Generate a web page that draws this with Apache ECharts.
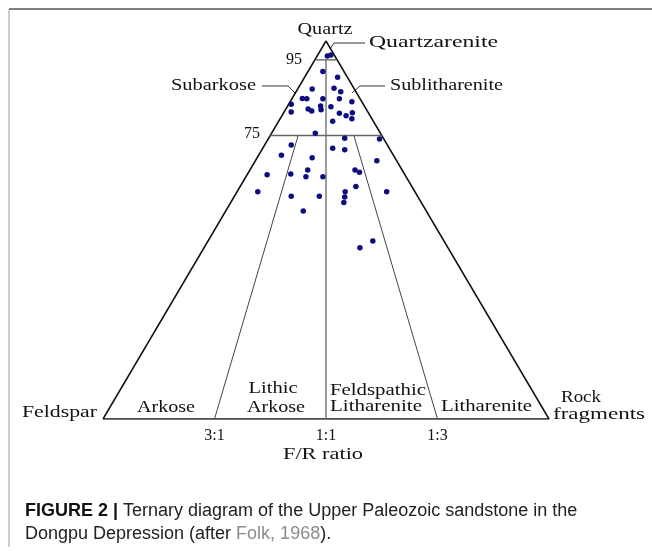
<!DOCTYPE html>
<html>
<head>
<meta charset="utf-8">
<script src="https://cdn.jsdelivr.net/npm/echarts@6/dist/echarts.min.js"></script>
<style>
html,body{margin:0;padding:0;background:#fff;}
#main{width:652px;height:552px;}
</style>
</head>
<body>
<div id="main"></div>
<script>
// Sample positions: [horizontal position along F→R base (%), Quartz (%)]
const samples = [
  [50.3,96.0],[51.1,96.3],[49.3,91.9],[52.6,90.4],[46.9,87.3],[51.8,87.5],[53.3,86.6],
  [44.7,84.8],[45.7,84.7],[49.3,84.7],[53.0,84.7],[55.8,83.9],[42.2,83.3],[42.2,81.2],
  [46.0,82.0],[46.8,81.5],[48.8,82.8],[48.9,81.8],[51.1,82.6],[53.0,80.9],[54.5,80.2],
  [55.9,81.0],[55.8,79.4],[51.5,78.8],[47.6,75.6],[54.2,74.3],[62.0,74.1],[42.2,72.5],
  [51.5,71.6],[54.2,71.2],[40.0,69.8],[46.9,69.1],[61.4,68.3],[45.9,65.9],[56.5,65.9],
  [57.5,65.3],[36.8,64.6],[42.1,64.8],[45.5,64.1],[49.3,64.1],[56.7,61.5],[34.7,60.1],
  [54.3,60.1],[63.6,60.1],[42.2,58.9],[48.5,58.9],[54.2,58.7],[54.0,57.3],[44.9,55.0],
  [60.5,47.1],[57.6,45.3]
];
// Triangle frame and class boundaries (same data units)
const outline = [[0,0],[100,0],[50,100],[0,0]];
const q95 = [[47.5,95],[52.5,95]];
const q75 = [[37.5,75],[62.5,75]];
const ratio11 = [[50,95],[50,0]];
const ratio31 = [[43.75,75],[25,0]];
const ratio13 = [[56.25,75],[75,0]];
const ratioTicks = [25, 50, 75];
const ratioLabels = ['3:1', '1:1', '1:3'];

const SERIF = '"Liberation Serif", "Times New Roman", serif';
const SANS = '"Liberation Sans", Arial, sans-serif';
const mctx = document.createElement('canvas').getContext('2d');
function measure(text, size) {
  mctx.font = size + 'px ' + SERIF;
  return mctx.measureText(text).width;
}
// serif label stretched horizontally to match the reference's wide lettering
function label(text, x, y, align, targetW, size) {
  size = size || 16;
  const s = targetW ? targetW / measure(text, size) : 1;
  return {
    type: 'text', x: x, y: y, scaleX: s,
    style: {
      text: text, font: size + 'px ' + SERIF, fill: '#111',
      align: align, textAlign: align, verticalAlign: 'middle', textVerticalAlign: 'middle'
    }
  };
}
function pline(points, color, width) {
  return { type: 'polyline', shape: { points: points },
    style: { stroke: color, lineWidth: width, fill: null } };
}

const chart = echarts.init(document.getElementById('main'), null, { renderer: 'canvas' });

function boundary(name, data, color, width) {
  return {
    name: name, type: 'line', data: data, symbol: 'none', silent: true,
    lineStyle: { color: color, width: width }, z: 1, animation: false
  };
}

const option = {
  backgroundColor: '#ffffff',
  animation: false,
  grid: { left: 103, top: 41, width: 446, height: 378 },
  xAxis: {
    type: 'value', min: 0, max: 100, interval: 25,
    axisLine: { show: false }, axisTick: { show: false }, splitLine: { show: false },
    axisLabel: {
      margin: 9, fontFamily: SERIF, fontSize: 16, color: '#111',
      formatter: function (v) {
        const i = ratioTicks.indexOf(v);
        return i >= 0 ? ratioLabels[i] : '';
      }
    }
  },
  yAxis: {
    type: 'value', min: 0, max: 100, show: false
  },
  series: [
    boundary('outline', outline, '#111', 1.5),
    boundary('q95', q95, '#555', 1.2),
    boundary('q75', q75, '#666', 1.5),
    boundary('ratio11', ratio11, '#666', 1.3),
    boundary('ratio31', ratio31, '#444', 1),
    boundary('ratio13', ratio13, '#444', 1),
    {
      name: 'samples', type: 'scatter', data: samples, symbol: 'circle', symbolSize: 5.5,
      itemStyle: { color: '#0d0d80', opacity: 1 }, z: 3
    }
  ],
  graphic: [
    pline([[9, 9], [652, 9]], '#808080', 2),
    pline([[9, 9], [9, 547]], '#9a9a9a', 1),
    pline([[330, 49], [334, 43], [365, 43]], '#333', 1),
    pline([[262, 86], [288, 86], [295, 93]], '#333', 1),
    pline([[385, 86], [360, 86], [352, 93]], '#333', 1),
    label('Quartz', 325, 30, 'center', 55),
    label('Quartzarenite', 369, 43, 'left', 129),
    label('95', 302, 60, 'right', 16),
    label('Subarkose', 256, 86, 'right', 85),
    label('Sublitharenite', 390, 86, 'left', 113),
    label('75', 260, 134, 'right', 16),
    label('Feldspar', 22, 413, 'left', 75),
    label('Arkose', 166, 408, 'center', 58),
    label('Lithic', 273, 389, 'center', 49),
    label('Arkose', 276, 408, 'center', 58),
    label('Feldspathic', 330, 391, 'left', 96),
    label('Litharenite', 330, 407, 'left', 92),
    label('Litharenite', 441, 407, 'left', 91),
    label('Rock', 561, 398, 'left', 40),
    label('fragments', 553, 415, 'left', 92),
    label('F/R ratio', 323, 455, 'center', 80),
    {
      type: 'text', x: 25, y: 511,
      style: {
        text: '{b|FIGURE 2 |} Ternary diagram of the Upper Paleozoic sandstone in the',
        font: '18px ' + SANS, fill: '#222', align: 'left', textAlign: 'left',
        verticalAlign: 'middle', textVerticalAlign: 'middle',
        rich: { b: { fontWeight: 'bold', fontSize: 18, fontFamily: SANS, fill: '#111', color: '#111' } }
      }
    },
    {
      type: 'text', x: 25, y: 534,
      style: {
        text: 'Dongpu Depression (after {g|Folk, 1968}).',
        font: '18px ' + SANS, fill: '#222', align: 'left', textAlign: 'left',
        verticalAlign: 'middle', textVerticalAlign: 'middle',
        rich: { g: { fontSize: 18, fontFamily: SANS, fill: '#8c8c8c', color: '#8c8c8c' } }
      }
    }
  ]
};
chart.setOption(option);
</script>
</body>
</html>
